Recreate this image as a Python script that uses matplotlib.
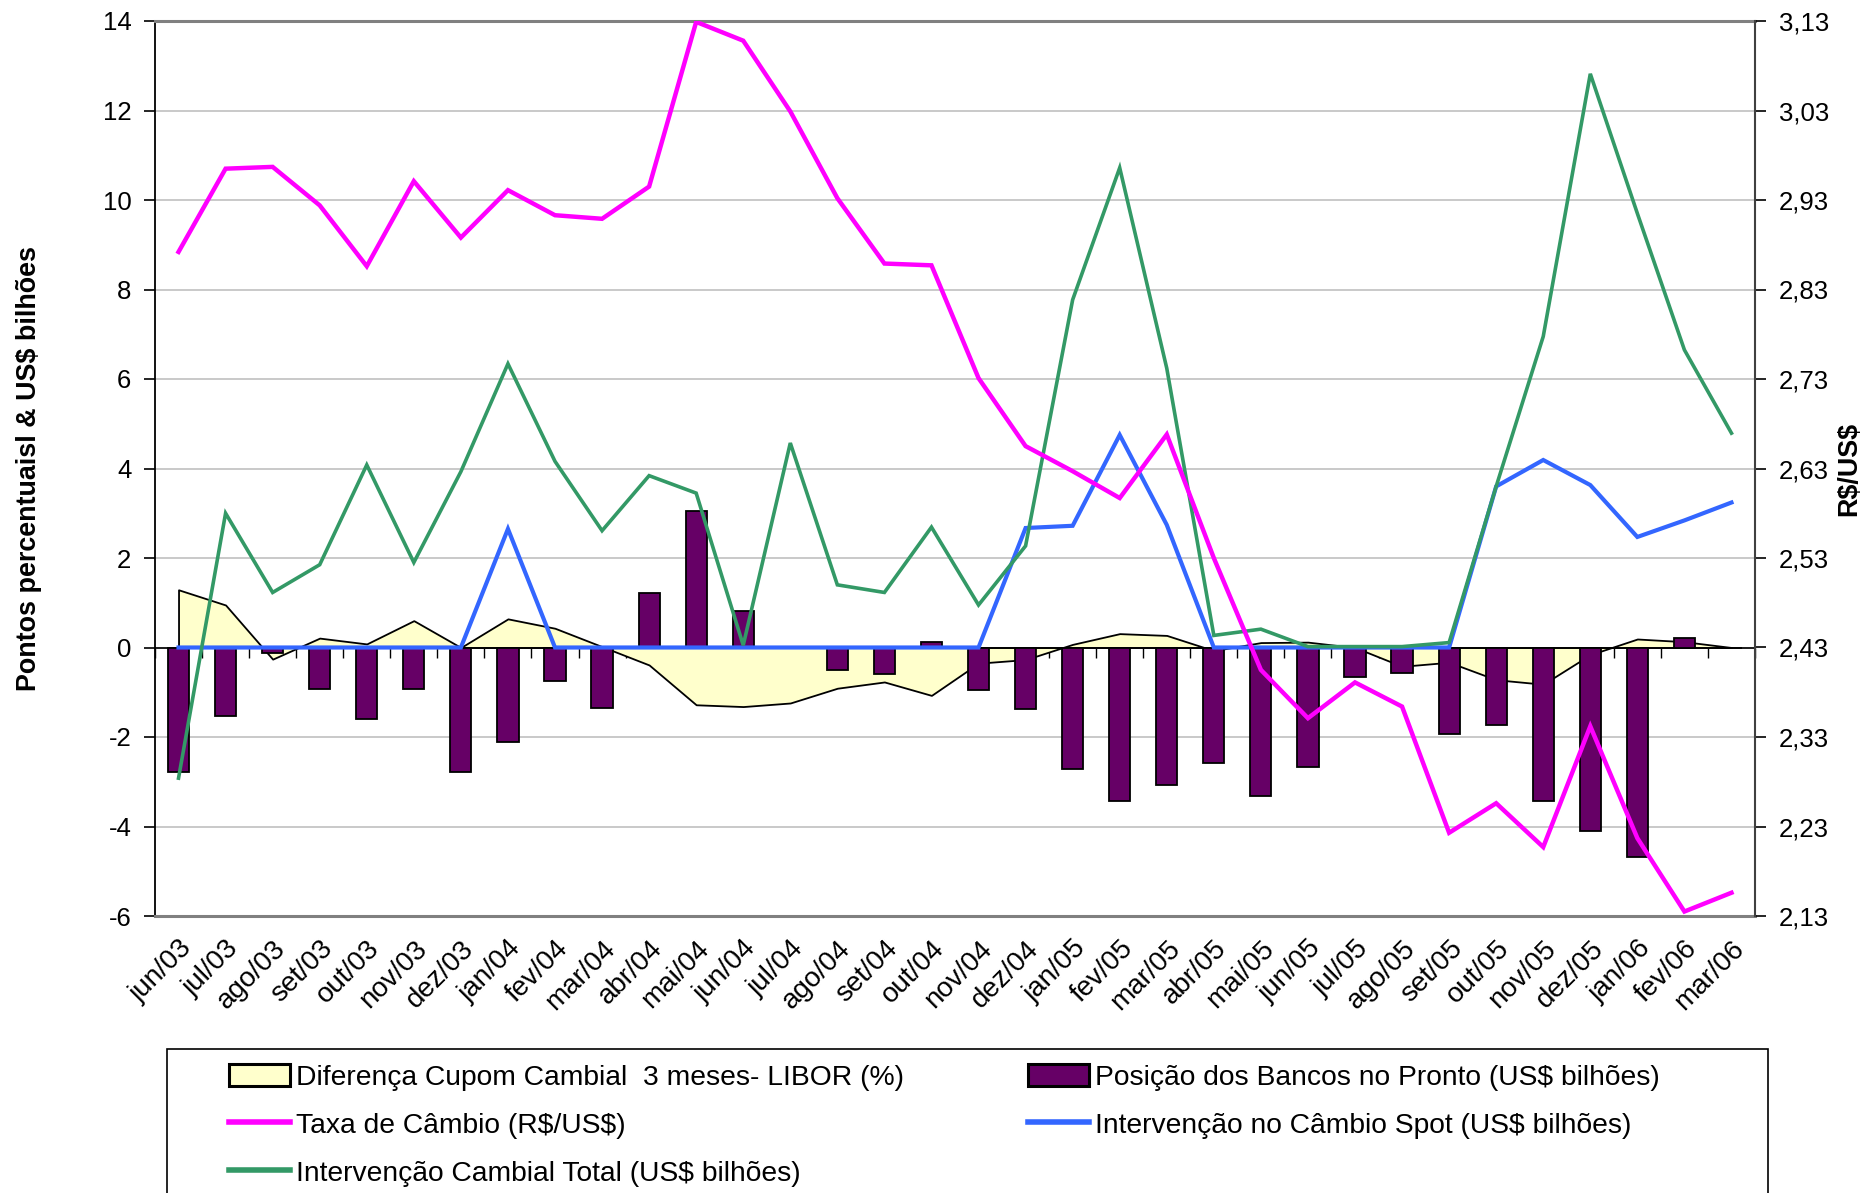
import numpy as np
import matplotlib
matplotlib.use("Agg")
import matplotlib.pyplot as plt
from matplotlib.patches import Patch, Rectangle
from matplotlib.lines import Line2D
from matplotlib.ticker import FuncFormatter

plt.rcParams['font.family'] = ['Liberation Sans', 'DejaVu Sans']
plt.rcParams['text.parse_math'] = False
plt.rcParams['axes.unicode_minus'] = False

cats = ['jun/03','jul/03','ago/03','set/03','out/03','nov/03','dez/03','jan/04','fev/04','mar/04',
        'abr/04','mai/04','jun/04','jul/04','ago/04','set/04','out/04','nov/04','dez/04','jan/05',
        'fev/05','mar/05','abr/05','mai/05','jun/05','jul/05','ago/05','set/05','out/05','nov/05',
        'dez/05','jan/06','fev/06','mar/06']

cupom = [1.29, 0.95, -0.26, 0.21, 0.08, 0.60, 0.0, 0.64, 0.43, 0.02,
         -0.39, -1.28, -1.32, -1.24, -0.91, -0.77, -1.07, -0.35, -0.27, 0.07,
         0.31, 0.27, -0.07, 0.11, 0.12, 0.0, -0.42, -0.33, -0.72, -0.82,
         -0.16, 0.19, 0.13, 0.0]

posicao = [-2.79, -1.52, -0.13, -0.92, -1.60, -0.93, -2.79, -2.11, -0.75, -1.35,
           1.21, 3.05, 0.82, 0.0, -0.51, -0.60, 0.12, -0.95, -1.37, -2.72,
           -3.42, -3.08, -2.58, -3.31, -2.67, -0.67, -0.57, -1.94, -1.73, -3.42,
           -4.11, -4.69, 0.21, 0.0]

taxa = [2.872, 2.965, 2.967, 2.924, 2.856, 2.951, 2.888, 2.941, 2.913, 2.909,
        2.945, 3.129, 3.108, 3.029, 2.932, 2.859, 2.857, 2.731, 2.655, 2.627,
        2.597, 2.668, 2.530, 2.405, 2.351, 2.391, 2.364, 2.223, 2.256, 2.207,
        2.342, 2.217, 2.135, 2.156]

spot = [0, 0, 0, 0, 0, 0, 0, 2.65, 0, 0,
        0, 0, 0, 0, 0, 0, 0, 0, 2.67, 2.72,
        4.75, 2.74, 0, 0, 0, 0, 0, 0, 3.60, 4.19,
        3.63, 2.47, 2.84, 3.24]

total = [-2.92, 3.00, 1.23, 1.85, 4.08, 1.90, 3.93, 6.34, 4.16, 2.61,
         3.84, 3.45, 0.05, 4.57, 1.40, 1.23, 2.69, 0.95, 2.27, 7.77,
         10.72, 6.24, 0.27, 0.41, 0.02, 0.02, 0.02, 0.11, 3.60, 6.95,
         12.82, 9.70, 6.65, 4.79]

left_ticks = [-6, -4, -2, 0, 2, 4, 6, 8, 10, 12, 14]
right_ticks = [2.13, 2.23, 2.33, 2.43, 2.53, 2.63, 2.73, 2.83, 2.93, 3.03, 3.13]

labels = ['Diferença Cupom Cambial  3 meses- LIBOR (%)',
          'Posição dos Bancos no Pronto (US$ bilhões)',
          'Taxa de Câmbio (R$/US$)',
          'Intervenção no Câmbio Spot (US$ bilhões)',
          'Intervenção Cambial Total (US$ bilhões)']

C_AREA = '#FFFFCC'
C_BAR = '#660066'
C_TAXA = '#FF00FF'
C_SPOT = '#3366FF'
C_TOTAL = '#339966'

W, H = 1876, 1193
fig = plt.figure(figsize=(W / 100, H / 100), dpi=100)
ax = fig.add_axes([155 / W, 1 - 916 / H, 1600 / W, (916 - 21) / H])

x = np.arange(len(cats))
ax.set_xlim(-0.5, len(cats) - 0.5)
ax.set_ylim(left_ticks[0], left_ticks[-1])

ax.set_yticks(left_ticks)
ax.grid(axis='y', color='#C0C0C0', lw=1.2, zorder=0)
ax.set_axisbelow(True)

# area
ax.fill_between(x, 0, cupom, facecolor=C_AREA, edgecolor='black', lw=1.3, zorder=2)
# bars
ax.bar(x, posicao, width=0.45, color=C_BAR, edgecolor='black', lw=1.3, zorder=3)
# zero category axis
ax.axhline(0, color='black', lw=1.2, zorder=2.5)
# lines
ax.plot(x, spot, color=C_SPOT, lw=3.0, zorder=5, solid_joinstyle='miter')
ax.plot(x, total, color=C_TOTAL, lw=2.6, zorder=6, solid_joinstyle='miter')

# tick marks along zero line at category boundaries
ypos = (0 - left_ticks[0]) / (left_ticks[-1] - left_ticks[0])
sec = ax.secondary_xaxis(ypos)
sec.set_xticks(np.arange(len(cats) + 1) - 0.5)
sec.set_xticklabels([])
sec.tick_params(axis='x', direction='out', length=7, width=1, color='black')
for s in sec.spines.values():
    s.set_visible(False)

ax.set_xticks(x)
ax.set_xticklabels(cats, rotation=45, ha='right', va='top', rotation_mode='anchor', fontsize=20)
ax.tick_params(axis='x', length=0, pad=14)
ax.tick_params(axis='y', direction='out', length=8, width=1.2, labelsize=18.5, pad=9)

for side in ['top', 'bottom']:
    ax.spines[side].set_color('#808080')
    ax.spines[side].set_linewidth(2.2)
ax.spines['left'].set_color('black')
ax.spines['left'].set_linewidth(1.3)
ax.spines['right'].set_visible(False)

ax.set_ylabel('Pontos percentuaisl & US$ bilhões', fontsize=19.4, fontweight='bold', labelpad=44)

ax2 = ax.twinx()
ax2.set_ylim(right_ticks[0], right_ticks[-1])
ax2.set_yticks(right_ticks)
ax2.yaxis.set_major_formatter(FuncFormatter(lambda v, p: f"{v:.2f}".replace('.', ',')))
ax2.plot(x, taxa, color=C_TAXA, lw=3.2, zorder=7, solid_joinstyle='miter')
ax2.tick_params(axis='y', direction='out', length=8, width=1.2, labelsize=18.5, pad=9)
for side in ['top', 'bottom', 'left']:
    ax2.spines[side].set_visible(False)
ax2.spines['right'].set_color('#404040')
ax2.spines['right'].set_linewidth(1.5)
ax2.set_ylabel('R$/US$', fontsize=19.4, fontweight='bold', labelpad=5)

# legend
handles = [Patch(facecolor=C_AREA, edgecolor='black', lw=2.2),
           Line2D([], [], color=C_TAXA, lw=4),
           Line2D([], [], color=C_TOTAL, lw=4),
           Patch(facecolor=C_BAR, edgecolor='black', lw=2.2),
           Line2D([], [], color=C_SPOT, lw=4)]
hl = [labels[0], labels[2], labels[4], labels[1], labels[3]]
fig.legend(handles, hl, ncol=2, frameon=False, loc='upper left',
           bbox_to_anchor=(215 / W, 1 - 1050 / H), borderpad=0,
           fontsize=20.3, handlelength=2.15, handleheight=0.8, handletextpad=0.22,
           labelspacing=0.76, columnspacing=4.4)
fig.patches.append(Rectangle((167 / W, -0.1), (1768 - 167) / W, 0.1 + 1 - 1049 / H,
                             transform=fig.transFigure, facecolor='none',
                             edgecolor='black', lw=1.2, clip_on=False))

fig.savefig('out.png', dpi=100)
